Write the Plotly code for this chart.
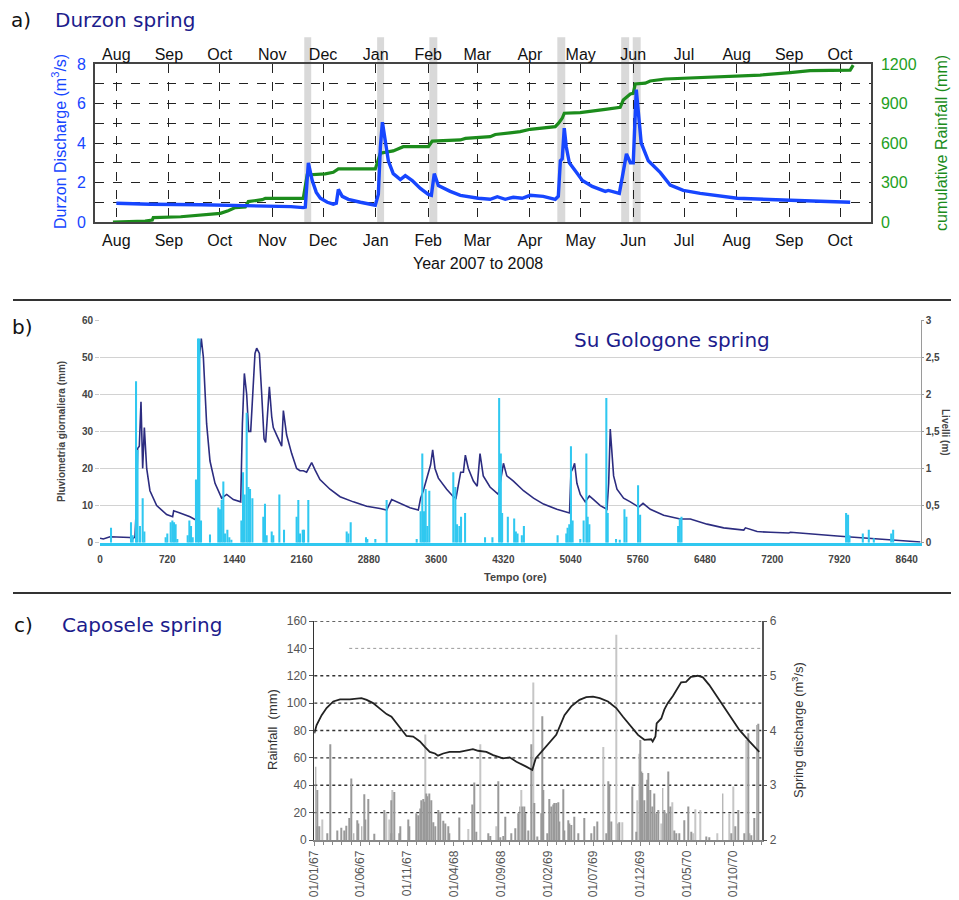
import pandas as pd
import plotly.graph_objects as go

# ---------------- a) Durzon spring  (day = days since 1 Aug 2007) ----------------
a_start = "2007-08-01"
a_discharge_day = [0, 20, 50, 79, 103, 110.3, 111.5, 113.3, 115.6, 118,
                   120.4, 124.5, 128, 129.8, 131, 133.3, 136.9, 144, 152.8, 154.6,
                   155.8, 157, 158.7, 160.5, 163.4, 167.6, 170.5, 174.6, 179.4, 184.1,
                   185.9, 187.6, 190, 197, 203, 213.6, 220.6, 224.8, 229.5, 234.2,
                   239.5, 244.2, 251.9, 259, 260.8, 262, 263.1, 264.3, 265.5, 267.3,
                   270.8, 275, 280.8, 288.5, 290.3, 296.8, 298.6, 301, 303.3, 305,
                   306.8, 308, 309.7, 313.9, 321, 326.8, 334.5, 344.5, 366.4, 397.6,
                   433]
a_discharge = [0.95, 0.9, 0.87, 0.83, 0.78, 0.73, 0.75, 3.0, 2.1, 1.5,
               1.2, 1.0, 0.9, 0.95, 1.65, 1.3, 1.15, 1.0, 0.85, 1.4,
               3.8, 5.05, 4.0, 3.1, 2.45, 2.15, 2.35, 2.1, 1.7, 1.4,
               1.35, 2.45, 1.85, 1.55, 1.35, 1.2, 1.15, 1.28, 1.15, 1.25,
               1.2, 1.35, 1.3, 1.15, 1.3, 3.1, 3.2, 4.75, 3.8, 3.0,
               2.6, 2.1, 1.8, 1.55, 1.6, 1.45, 2.3, 3.45, 3.0, 3.0,
               6.7, 5.5, 4.0, 3.1, 2.5, 1.87, 1.6, 1.45, 1.2, 1.1,
               1.0]
a_rain_day = [-2, 17, 21.2, 21.8, 38, 48, 61.4, 66, 70.2, 76.1,
              77.9, 86.1, 87.9, 110.3, 112.6, 123.3, 128, 131, 152.8, 155.8,
              163.4, 169.3, 184.1, 186.4, 203, 206, 214.7, 220.6, 223.6, 238.3,
              244.2, 259, 260.8, 263.1, 264.3, 273.7, 288.5, 297.3, 299.1, 303.3,
              305, 306.2, 312.1, 315, 323.9, 344.5, 366.4, 379.9, 397.6, 409.4,
              433, 434.8]
a_rain_cum = [0, 7, 15, 33, 40, 53, 66, 86, 109, 115,
              155, 170, 180, 180, 357, 365, 377, 403, 403, 522,
              540, 572, 572, 615, 623, 635, 640, 648, 665, 686,
              704, 724, 749, 788, 826, 831, 856, 871, 926, 972,
              977, 1048, 1054, 1071, 1086, 1097, 1108, 1116, 1134, 1149,
              1154, 1192]
a_event_start_day = [110.9, 153.9, 184.7, 260.2, 297.9, 304.7]
a_event_end_day = [115.0, 158.0, 189.4, 264.9, 302.6, 309.4]

# ---------------- b) Su Gologone spring (hours) ----------------
b_rain_hour = [118, 332, 350, 386, 402, 428, 457, 475, 703, 721,
               757, 775, 793, 810, 828, 939, 957, 975, 993, 1028,
               1050, 1064, 1082, 1178, 1267, 1285, 1303, 1321, 1339, 1364,
               1385, 1407, 1514, 1532, 1549, 1571, 1589, 1607, 1632, 1749,
               1767, 1785, 1839, 1856, 1921, 1971, 2106, 2124, 2142, 2171,
               2185, 2231, 2642, 2660, 2685, 2849, 2863, 2949, 3070, 3392,
               3434, 3452, 3470, 3488, 3506, 3527, 3784, 3806, 3824, 3849,
               3867, 3910, 4124, 4203, 4275, 4293, 4307, 4368, 4436, 4454,
               4472, 4518, 4540, 4901, 4994, 5008, 5026, 5044, 5062, 5144,
               5180, 5209, 5223, 5241, 5423, 5438, 5527, 5567, 5617, 5638,
               5763, 5785, 6192, 6210, 6228, 7991, 8012, 8027, 8170, 8234,
               8288, 8474, 8495]
b_rain_mm = [4, 5.5, 2, 43.5, 25, 4.5, 12, 3, 1.5, 2.5,
             5.5, 6, 5.5, 5, 1, 2, 6, 4.5, 1.5, 17,
             55, 55, 6, 2.2, 9.5, 9, 11.5, 16.5, 2.5, 3.5,
             1.5, 0.8, 6, 19, 13, 35, 15, 14.5, 12, 7,
             10.5, 2, 3, 2, 13, 3.5, 7, 11.5, 2.5, 3.5,
             3.5, 11.5, 3, 2.5, 5.5, 1.5, 1, 1, 11.5, 1,
             8.5, 24, 8.5, 14.5, 4.5, 14, 19, 15, 5, 4.5,
             7, 8, 1.5, 1.5, 39, 24, 8, 7, 6.5, 3,
             2.5, 2, 4.5, 2, 2.5, 4, 5, 26, 6, 1,
             6, 24, 7, 5, 39, 8, 1, 0.8, 9, 7,
             15.5, 7.5, 4.5, 6.5, 7, 8, 7.5, 2, 2.5, 3.5,
             1.2, 2.5, 3.5]
b_level_hour = [0, 36, 107, 214, 321, 350, 375, 393, 403, 421,
                439, 457, 475, 500, 535, 607, 714, 778, 789, 857,
                964, 1035, 1060, 1064, 1085, 1107, 1142, 1178, 1232, 1303,
                1357, 1428, 1507, 1525, 1546, 1571, 1592, 1614, 1635, 1660,
                1678, 1707, 1732, 1757, 1774, 1796, 1814, 1839, 1856, 1892,
                1946, 1964, 1999, 2053, 2106, 2142, 2178, 2213, 2267, 2303,
                2356, 2463, 2571, 2713, 2856, 2999, 3070, 3124, 3213, 3320,
                3409, 3434, 3463, 3516, 3541, 3563, 3588, 3624, 3713, 3784,
                3813, 3827, 3863, 3892, 3913, 3945, 3999, 4040, 4055, 4070,
                4105, 4177, 4266, 4293, 4321, 4357, 4428, 4536, 4643, 4750,
                4893, 5029, 5044, 5065, 5083, 5108, 5144, 5197, 5241, 5287,
                5358, 5430, 5448, 5465, 5483, 5501, 5537, 5608, 5680, 5770,
                5816, 5894, 6037, 6215, 6323, 6502, 6680, 6895, 6913, 7038,
                7181, 7377, 7395, 7645, 7895, 8002, 8359, 8645, 8788]
b_level_m = [0.06, 0.05, 0.08, 0.08, 0.07, 0.05, 0.08, 0.6, 1.27, 1.3,
             1.9, 1.0, 1.55, 1.0, 0.7, 0.5, 0.38, 0.35, 0.43, 0.4,
             0.35, 0.3, 0.3, 2.5, 2.75, 2.5, 1.6, 1.1, 0.8, 0.6,
             0.65, 0.58, 0.55, 1.6, 2.28, 2.0, 1.5, 1.5, 2.0, 2.55,
             2.62, 2.55, 2.0, 1.4, 1.35, 1.8, 2.1, 1.7, 1.55, 1.45,
             1.3, 1.78, 1.45, 1.2, 1.0, 0.97, 0.97, 0.95, 1.08, 0.98,
             0.85, 0.72, 0.62, 0.55, 0.49, 0.46, 0.44, 0.58, 0.53, 0.47,
             0.44, 0.6, 0.7, 0.92, 1.05, 1.25, 1.0, 0.87, 0.72, 0.62,
             0.6, 0.7, 0.95, 0.95, 1.18, 1.0, 0.83, 0.76, 0.95, 1.2,
             0.9, 0.75, 0.65, 0.85, 1.07, 0.9, 0.83, 0.7, 0.6, 0.52,
             0.45, 0.4, 0.95, 1.0, 1.07, 0.8, 0.65, 0.55, 0.63, 0.58,
             0.5, 0.45, 0.8, 1.53, 1.2, 0.9, 0.72, 0.6, 0.55, 0.48,
             0.53, 0.45, 0.37, 0.32, 0.32, 0.25, 0.2, 0.17, 0.2, 0.15,
             0.14, 0.13, 0.14, 0.11, 0.09, 0.08, 0.05, 0.03, 0.01]
b_level_tickvals = [0, 0.5, 1, 1.5, 2, 2.5, 3]
b_level_ticktext = ["0", "0,5", "1", "1,5", "2", "2,5", "3"]

# ---------------- c) Caposele spring (day = days since 1 Jan 1967) ----------------
c_start = "1967-01-01"
c_rain_day = [5, 9, 11, 15, 42, 51, 75, 89, 97, 105,
              114, 121, 129, 140, 145, 155, 163, 168, 175, 195,
              230, 250, 252, 260, 279, 282, 306, 310, 334, 339,
              345, 350, 355, 360, 366, 370, 375, 383, 390, 395,
              404, 410, 421, 429, 437, 440, 473, 515, 523, 529,
              567, 575, 602, 608, 618, 625, 642, 657, 665, 671,
              679, 685, 690, 699, 709, 717, 727, 741, 745, 749,
              761, 766, 774, 779, 785, 790, 796, 801, 812, 817,
              828, 834, 839, 850, 861, 883, 904, 915, 923, 953,
              959, 964, 970, 991, 997, 1038, 1051, 1064, 1067, 1072,
              1078, 1084, 1087, 1092, 1098, 1103, 1109, 1116, 1122, 1138,
              1143, 1149, 1155, 1162, 1176, 1183, 1191, 1208, 1222, 1230,
              1279, 1290, 1334, 1361, 1375, 1385, 1404, 1417, 1422, 1427,
              1436, 1445, 1450]
c_rain_mm = [53.6, 10, 36.5, 10, 5, 70, 7, 9, 7, 10.5,
             16, 45, 5, 14.5, 12, 10, 33.5, 15, 30, 4.5,
             22, 5, 29, 35, 5, 10, 15, 10, 19.5, 18,
             23, 29, 30, 28, 34, 32, 34, 29, 13, 10,
             22, 20.5, 14, 12, 10, 5, 16.5, 26, 42, 6,
             5, 3, 43, 2, 3, 17, 5, 8.5, 19.5, 24.5,
             24.5, 24.5, 19.5, 7, 70, 27, 2.5, 19.5, 90.5, 36.5,
             5, 30, 24.5, 26, 27, 27, 27.5, 13.5, 37, 7,
             14.5, 12, 11, 17, 5, 16, 5, 10, 13.5, 5,
             43, 40, 13.5, 12, 13, 39, 6, 73, 50, 49,
             29, 19.5, 44, 49, 36.5, 24.5, 34, 19.5, 22, 38,
             22, 19.5, 50, 24.5, 7, 5, 5, 14.5, 24.5, 6,
             2.5, 2, 34, 5, 10, 22, 5, 78, 5, 3.5,
             16, 84, 85]
c_rain_light_day = [27, 236, 245, 255, 363, 502, 542, 595, 676, 714, 945, 986,
                    1005, 1054, 1060, 1133, 1168, 1238, 1244, 1260, 1317, 1355, 1368, 1410]
c_rain_light_mm = [15, 20, 15, 36.5, 77, 8, 70, 10, 36.5, 115, 68, 150,
                   13, 29, 63, 12, 27.5, 5, 22.5, 22, 5, 19.5, 39, 73]
c_discharge_day = [0, 7.6, 24, 40, 62, 84, 116, 138, 154, 171,
                   192, 214, 236, 252, 268, 290, 301, 323, 345, 361,
                   377, 394, 404, 421, 442, 475, 497, 518, 535, 562,
                   584, 616, 638, 660, 692, 712, 723, 747, 768, 790,
                   817, 839, 866, 888, 910, 932, 959, 986, 1008, 1029,
                   1057, 1078, 1100, 1105, 1114, 1118, 1133, 1143, 1154, 1171,
                   1198, 1214, 1230, 1252, 1269, 1290, 1323, 1355, 1388, 1421,
                   1453]
c_discharge = [3.95, 4.1, 4.28, 4.41, 4.53, 4.57, 4.57, 4.58, 4.59, 4.56,
               4.5, 4.4, 4.3, 4.25, 4.13, 3.98, 3.9, 3.89, 3.8, 3.7,
               3.61, 3.58, 3.54, 3.58, 3.61, 3.61, 3.63, 3.66, 3.63, 3.61,
               3.55, 3.49, 3.51, 3.43, 3.34, 3.28, 3.49, 3.65, 3.77, 3.92,
               4.28, 4.44, 4.56, 4.61, 4.62, 4.59, 4.53, 4.41, 4.25, 4.1,
               3.92, 3.83, 3.84, 3.8, 3.89, 4.13, 4.22, 4.38, 4.5, 4.63,
               4.88, 4.89, 4.98, 5.0, 4.97, 4.83, 4.56, 4.28, 4.01, 3.8,
               3.61]
c_tick_dates = ["1967-01-01", "1967-06-01", "1967-11-01", "1968-04-01", "1968-09-01",
                "1969-02-01", "1969-07-01", "1969-12-01", "1970-05-01", "1970-10-01"]
c_grid_mm = [20, 40, 60, 80, 100, 120, 160]
c_grid_faint_mm = [140]

# ---------------- helpers ----------------
# the page body keeps an 8 px margin, so the figure is 8 px smaller on each side
OFF = 8
W, H = 959 - OFF, 900 - OFF
ARIAL = "Liberation Sans, Arial, sans-serif"
DEJAVU = "DejaVu Sans, Verdana, sans-serif"
BLUE = "#1746ff"
GREEN = "#1c8c1c"
NAVY = "#1c1c8c"
CYAN = "#30c8f0"
CLEAR = "rgba(0,0,0,0)"


def fx(p):
    return (p - OFF) / W


def fy(p):
    return 1 - (p - OFF) / H


def days_to_dates(start, days):
    return pd.Timestamp(start) + pd.to_timedelta(days, unit="D")


a_range = [pd.Timestamp("2007-07-19 10:00"), pd.Timestamp("2008-10-19 07:00")]
c_range = [pd.Timestamp("1967-01-01"), pd.Timestamp("1971-01-01")]

fig = go.Figure()

# ---- panel a traces ----
fig.add_trace(go.Scatter(x=days_to_dates(a_start, a_rain_day), y=a_rain_cum, xaxis="x", yaxis="y",
                         mode="lines", line=dict(color=GREEN, width=3.2), hoverinfo="skip"))
fig.add_trace(go.Scatter(x=days_to_dates(a_start, a_discharge_day), y=a_discharge, xaxis="x", yaxis="y2",
                         mode="lines", line=dict(color=BLUE, width=3.4), hoverinfo="skip"))
fig.add_trace(go.Scatter(x=a_range, y=[None, None], xaxis="x2", yaxis="y", mode="lines",
                         hoverinfo="skip"))

# ---- panel b traces ----
fig.add_trace(go.Scatter(x=b_level_hour, y=b_level_m, xaxis="x3", yaxis="y3", mode="lines",
                         line=dict(color="#2c2c80", width=1.6), hoverinfo="skip"))
fig.add_trace(go.Bar(x=b_rain_hour, y=b_rain_mm, xaxis="x3", yaxis="y4", width=22,
                     marker=dict(color=CYAN, line=dict(width=0)), hoverinfo="skip"))

# ---- panel c traces ----
fig.add_trace(go.Bar(x=days_to_dates(c_start, c_rain_light_day), y=c_rain_light_mm, xaxis="x4", yaxis="y5",
                     width=3 * 86400000, marker=dict(color="#c6c6c6", line=dict(width=0)), hoverinfo="skip"))
fig.add_trace(go.Bar(x=days_to_dates(c_start, c_rain_day), y=c_rain_mm, xaxis="x4", yaxis="y5",
                     width=3 * 86400000, marker=dict(color="#999999", line=dict(width=0)), hoverinfo="skip"))
fig.add_trace(go.Scatter(x=days_to_dates(c_start, c_discharge_day), y=c_discharge, xaxis="x4", yaxis="y6",
                         mode="lines", line=dict(color="#222222", width=1.8), hoverinfo="skip"))

# ---- shapes ----
shapes = []
for s, e in zip(days_to_dates(a_start, a_event_start_day), days_to_dates(a_start, a_event_end_day)):
    shapes.append(dict(type="rect", xref="x", yref="y domain", x0=s, x1=e, y0=0, y1=1.17,
                       fillcolor="#d9d9d9", line=dict(width=0), layer="below"))
for v in c_grid_mm:
    shapes.append(dict(type="line", xref="x4 domain", yref="y5", x0=0, x1=1, y0=v, y1=v,
                       line=dict(color="#333333", width=1.3, dash="dot"), layer="below"))
for v in c_grid_faint_mm:
    shapes.append(dict(type="line", xref="x4 domain", yref="y5", x0=0.078, x1=1, y0=v, y1=v,
                       line=dict(color="#9a9a9a", width=1, dash="dot"), layer="below"))
for ysep in [300, 593]:
    shapes.append(dict(type="line", xref="paper", yref="paper", x0=fx(13), x1=1, y0=fy(ysep), y1=fy(ysep),
                       line=dict(color="#333333", width=2)))


# ---- annotations ----
def ann(text, x, y, size, color, family=ARIAL, angle=0, xanchor="center", weight="normal"):
    return dict(text=text, x=fx(x), y=fy(y), xref="paper", yref="paper", showarrow=False,
                xanchor=xanchor, yanchor="middle", textangle=angle,
                font=dict(size=size, color=color, family=family, weight=weight))


annotations = [
    ann("a)", 21, 20, 20, "#111111", DEJAVU),
    ann("Durzon spring", 53, 20, 20, NAVY, DEJAVU, xanchor="left"),
    ann("Durzon Discharge (m<sup>3</sup>/s)", 59, 142, 16, BLUE, angle=-90),
    ann("cumulative Rainfall (mm)", 942, 143, 16, GREEN, angle=-90),
    ann("Year 2007 to 2008", 478, 264, 16, "#111111"),
    ann("b)", 22, 327, 20, "#111111", DEJAVU),
    ann("Su Gologone spring", 672, 340, 20, NAVY, DEJAVU),
    ann("Pluviometria giornaliera (mm)", 61, 432, 10, "#444444", angle=-90, weight="bold"),
    ann("Livelli (m)", 946, 432, 10, "#444444", angle=90, weight="bold"),
    ann("Tempo (ore)", 515, 577, 11, "#444444", weight="bold"),
    ann("c)", 23, 625, 20, "#111111", DEJAVU),
    ann("Caposele spring", 60, 625, 20, NAVY, DEJAVU, xanchor="left"),
    ann("Rainfall  (mm)", 272, 730, 13, "#333333", angle=-90),
    ann("Spring discharge (m<sup>3</sup>/s)", 798, 730, 13, "#333333", angle=-90),
]

month_font = dict(size=16, color="#111111", family=ARIAL)
b_tick_font = dict(size=10, color="#444444", family=ARIAL, weight="bold")
c_tick_font = dict(size=12, color="#555555", family=ARIAL)

fig.update_layout(
    width=W, height=H, autosize=False,
    margin=dict(l=0, r=0, t=0, b=0),
    paper_bgcolor="white", plot_bgcolor="white",
    showlegend=False, barmode="overlay",
    shapes=shapes, annotations=annotations,
    # panel a
    xaxis=dict(domain=[fx(95), fx(871)], anchor="y", type="date", range=a_range,
               tickformat="%b", dtick="M1", tick0="2007-08-01",
               showgrid=True, gridcolor="#222222", griddash="dash", gridwidth=1,
               showline=True, linecolor="#444444", linewidth=1.5, mirror=True,
               ticks="outside", ticklen=3, tickcolor=CLEAR, tickfont=month_font,
               zeroline=False, automargin=False),
    xaxis2=dict(overlaying="x", anchor="y", side="top", type="date", range=a_range,
                tickformat="%b", dtick="M1", tick0="2007-08-01", showgrid=False,
                ticks="", tickfont=month_font,
                zeroline=False, automargin=False),
    yaxis=dict(domain=[fy(222), fy(64)], anchor="x", side="right", range=[0, 1200], dtick=300,
               showgrid=False, zeroline=False, showline=True, mirror=True,
               linecolor="#444444", linewidth=1.5,
               ticks="outside", ticklen=5, tickcolor=CLEAR,
               tickfont=dict(size=16, color="#22a022", family=ARIAL), automargin=False),
    yaxis2=dict(overlaying="y", anchor="x", side="left", range=[0, 8], dtick=2,
                showgrid=True, gridcolor="#222222", griddash="dash", gridwidth=1,
                minor=dict(dtick=1, showgrid=True, gridcolor="#222222", griddash="dash", gridwidth=1),
                zeroline=False, ticks="outside", ticklen=5, tickcolor=CLEAR,
                tickfont=dict(size=16, color=BLUE, family=ARIAL), automargin=False),
    # panel b
    xaxis3=dict(domain=[fx(100), fx(920.7)], anchor="y3", range=[0, 8790], tick0=0, dtick=720,
                showgrid=False, zeroline=False, showline=True, linecolor=CYAN, linewidth=2.5,
                ticks="outside", ticklen=6, tickcolor=CLEAR, tickfont=b_tick_font, automargin=False),
    yaxis3=dict(domain=[fy(542.7), fy(320)], anchor="x3", side="right", range=[0, 3],
                tickmode="array", tickvals=b_level_tickvals, ticktext=b_level_ticktext,
                showgrid=False, zeroline=False, showline=True, linecolor="#9a9a9a", linewidth=1,
                ticks="outside", ticklen=2, tickcolor="#9a9a9a", tickfont=b_tick_font, automargin=False),
    yaxis4=dict(overlaying="y3", anchor="x3", side="left", range=[0, 60], dtick=10,
                showgrid=True, gridcolor="#d2d2d2", gridwidth=1.2, zeroline=False, showline=False,
                ticks="outside", ticklen=4, tickcolor="#c8c8c8", tickfont=b_tick_font, automargin=False),
    # panel c
    xaxis4=dict(domain=[fx(314.3), fx(761.7)], anchor="y5", type="date", range=c_range,
                tickmode="array", tickvals=c_tick_dates, tickformat="%d/%m/%y", tickangle=-90,
                showgrid=False, zeroline=False, showline=True, linecolor="#888888", linewidth=1.5,
                ticks="outside", ticklen=4, tickcolor="#888888", tickfont=c_tick_font,
                minor=dict(dtick="M1", tick0="1967-01-01", ticks="outside", ticklen=3, tickcolor="#888888"),
                automargin=False),
    yaxis5=dict(domain=[fy(840), fy(621)], anchor="x4", range=[0, 160], dtick=20,
                showgrid=False, zeroline=False, showline=True, linecolor="#333333", linewidth=1.2,
                ticks="outside", ticklen=4, tickcolor="#555555", tickfont=c_tick_font, automargin=False),
    yaxis6=dict(overlaying="y5", anchor="x4", side="right", range=[2, 6], dtick=1,
                showgrid=False, zeroline=False, showline=True, linecolor="#555555", linewidth=1.5,
                ticks="outside", ticklen=4, tickcolor="#555555", tickfont=c_tick_font, automargin=False),
)

fig.write_html("out.html")
